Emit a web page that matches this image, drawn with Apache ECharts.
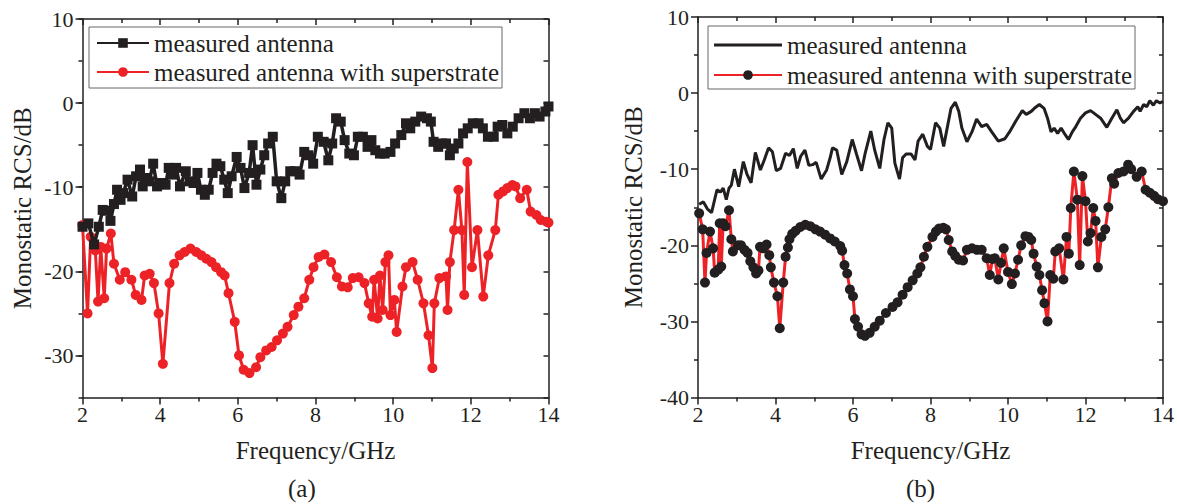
<!DOCTYPE html>
<html>
<head>
<meta charset="utf-8">
<script src="https://cdn.jsdelivr.net/npm/echarts@6/dist/echarts.min.js"></script>
<style>
  html, body { margin: 0; padding: 0; background: #fff; }
  #chart { width: 1177px; height: 504px; }
</style>
</head>
<body>
<div id="chart"></div>
<script>
// Frequency ticks (GHz) and labelled RCS ticks (dB)
const freqTicks = [2, 4, 6, 8, 10, 12, 14];
const rcsTicksA = [10, 0, -10, -20, -30];
const rcsTicksB = [10, 0, -10, -20, -30, -40];
const seriesLabels = ['measured antenna', 'measured antenna with superstrate'];
const panelLabels = ['(a)', '(b)'];

// Panel (a): [frequency GHz, monostatic RCS dB]
const antennaA = [
  [2.00,-14.7],[2.15,-14.3],[2.30,-16.8],[2.42,-14.7],[2.52,-12.7],[2.64,-12.8],[2.72,-14.0],
  [2.81,-12.0],[2.89,-10.3],[2.98,-11.5],[3.05,-10.7],[3.16,-9.1],[3.28,-11.1],[3.38,-8.7],
  [3.48,-7.9],[3.55,-9.9],[3.63,-8.9],[3.72,-9.3],[3.82,-7.2],[3.92,-9.9],[4.02,-9.5],
  [4.14,-9.7],[4.22,-7.7],[4.32,-8.5],[4.41,-7.7],[4.51,-9.9],[4.66,-8.1],[4.76,-9.3],
  [4.86,-9.5],[4.96,-8.3],[5.05,-10.3],[5.15,-10.9],[5.25,-10.3],[5.35,-8.3],[5.45,-7.2],
  [5.55,-7.5],[5.65,-9.1],[5.74,-10.7],[5.84,-8.7],[5.97,-6.4],[6.07,-7.7],[6.17,-10.1],
  [6.29,-8.3],[6.38,-5.0],[6.48,-9.7],[6.58,-7.9],[6.68,-6.2],[6.78,-4.8],[6.90,-4.0],
  [7.00,-9.3],[7.12,-11.3],[7.22,-9.3],[7.35,-8.1],[7.47,-8.1],[7.59,-8.5],[7.71,-5.8],
  [7.81,-6.2],[7.94,-7.2],[8.06,-4.0],[8.21,-4.6],[8.33,-6.8],[8.43,-4.8],[8.53,-1.8],
  [8.65,-2.2],[8.75,-4.4],[8.87,-6.0],[8.99,-6.2],[9.09,-4.0],[9.22,-4.0],[9.34,-5.2],
  [9.44,-4.4],[9.54,-5.6],[9.66,-6.0],[9.78,-6.0],[9.93,-5.8],[10.05,-4.8],[10.21,-3.8],
  [10.33,-2.4],[10.44,-3.0],[10.57,-2.2],[10.72,-1.6],[10.87,-1.8],[10.97,-2.2],[11.04,-4.6],
  [11.16,-5.2],[11.26,-4.8],[11.36,-4.8],[11.46,-6.2],[11.56,-5.4],[11.68,-4.8],[11.80,-3.6],
  [11.92,-3.0],[12.05,-2.4],[12.20,-2.4],[12.31,-3.0],[12.44,-4.0],[12.59,-4.0],[12.69,-2.8],
  [12.81,-2.6],[12.94,-3.6],[13.08,-2.8],[13.23,-1.8],[13.38,-1.2],[13.52,-1.8],[13.65,-1.2],
  [13.77,-1.6],[13.92,-1.0],[14.00,-0.4]
];
const superstrateA = [
  [2.00,-14.5],[2.13,-25.0],[2.21,-15.9],[2.33,-17.5],[2.40,-23.6],[2.47,-17.1],[2.56,-23.2],
  [2.62,-17.3],[2.73,-15.5],[2.81,-19.1],[2.96,-21.0],[3.10,-20.1],[3.26,-21.0],[3.37,-22.8],
  [3.52,-23.4],[3.60,-20.5],[3.73,-20.3],[3.84,-21.4],[3.96,-25.0],[4.07,-31.0],[4.24,-21.4],
  [4.36,-19.1],[4.50,-18.1],[4.63,-17.7],[4.78,-17.3],[4.93,-17.7],[5.06,-18.1],[5.19,-18.5],
  [5.32,-18.9],[5.44,-19.5],[5.57,-20.1],[5.66,-20.5],[5.76,-22.6],[5.92,-26.0],[6.03,-30.0],
  [6.15,-31.7],[6.30,-32.1],[6.47,-31.4],[6.58,-30.2],[6.73,-29.4],[6.87,-29.0],[7.01,-28.2],
  [7.16,-27.4],[7.28,-26.6],[7.44,-25.2],[7.56,-24.2],[7.71,-23.2],[7.84,-21.0],[7.95,-19.5],
  [8.08,-18.3],[8.23,-18.0],[8.40,-18.9],[8.55,-20.7],[8.68,-21.8],[8.83,-21.9],[8.96,-20.8],
  [9.11,-20.7],[9.26,-21.4],[9.37,-23.8],[9.46,-25.4],[9.51,-21.0],[9.60,-25.6],[9.66,-20.5],
  [9.73,-24.6],[9.80,-18.9],[9.88,-18.1],[9.93,-25.2],[10.03,-23.4],[10.09,-27.2],[10.24,-21.8],
  [10.33,-19.5],[10.50,-18.9],[10.63,-21.0],[10.78,-23.8],[10.91,-27.6],[11.01,-31.5],[11.06,-23.8],
  [11.19,-20.8],[11.36,-20.6],[11.40,-24.6],[11.46,-18.9],[11.57,-15.1],[11.68,-10.3],[11.77,-15.1],
  [11.83,-22.8],[11.91,-7.0],[12.03,-19.5],[12.17,-15.1],[12.32,-23.0],[12.45,-18.1],[12.63,-15.1],
  [12.71,-10.9],[12.83,-10.5],[12.94,-10.1],[13.07,-9.75],[13.15,-9.9],[13.27,-11.3],[13.44,-10.3],
  [13.54,-12.9],[13.69,-13.3],[13.80,-13.9],[13.95,-14.1],[14.00,-14.2]
];

// Panel (b): [frequency GHz, monostatic RCS dB]
const antennaB = [
  [2.03,-14.6],[2.14,-14.3],[2.24,-15.2],[2.35,-15.7],[2.49,-12.7],[2.58,-13.0],[2.65,-12.5],
  [2.73,-14.0],[2.80,-12.5],[2.86,-12.1],[2.94,-10.0],[3.05,-12.3],[3.17,-9.0],[3.26,-10.6],
  [3.37,-11.8],[3.48,-7.8],[3.61,-10.1],[3.71,-8.8],[3.82,-7.2],[3.92,-7.7],[4.02,-10.2],
  [4.13,-9.9],[4.26,-7.9],[4.36,-8.2],[4.46,-7.3],[4.56,-9.9],[4.65,-8.3],[4.76,-7.5],
  [4.86,-9.5],[4.96,-9.4],[5.05,-9.1],[5.18,-11.3],[5.32,-10.1],[5.41,-8.5],[5.47,-7.2],
  [5.58,-7.5],[5.71,-10.7],[5.84,-9.0],[5.98,-6.1],[6.09,-8.0],[6.22,-10.2],[6.31,-8.0],
  [6.46,-5.0],[6.56,-7.5],[6.69,-9.9],[6.80,-6.1],[6.90,-3.9],[7.00,-4.6],[7.08,-9.2],
  [7.20,-11.3],[7.28,-8.5],[7.37,-8.0],[7.50,-8.0],[7.60,-8.8],[7.68,-6.3],[7.80,-5.4],
  [7.92,-7.0],[8.00,-7.4],[8.13,-3.9],[8.24,-4.6],[8.34,-7.0],[8.43,-4.6],[8.53,-2.0],
  [8.64,-1.2],[8.73,-2.4],[8.81,-4.6],[8.94,-6.4],[9.07,-5.1],[9.19,-3.4],[9.32,-4.4],
  [9.45,-4.1],[9.58,-5.1],[9.75,-6.3],[9.92,-6.0],[10.04,-5.1],[10.21,-3.6],[10.37,-2.3],
  [10.47,-2.8],[10.60,-2.4],[10.68,-2.0],[10.81,-1.5],[10.93,-2.0],[11.02,-3.3],[11.11,-5.1],
  [11.19,-4.6],[11.28,-5.3],[11.37,-4.6],[11.48,-5.5],[11.56,-6.1],[11.66,-5.1],[11.75,-4.4],
  [11.87,-3.3],[12.00,-2.6],[12.13,-2.3],[12.26,-2.8],[12.39,-3.3],[12.55,-4.5],[12.68,-3.3],
  [12.81,-2.2],[12.90,-3.3],[12.98,-3.9],[13.11,-3.3],[13.24,-2.4],[13.35,-1.8],[13.41,-2.4],
  [13.50,-1.5],[13.58,-1.8],[13.66,-1.0],[13.75,-1.6],[13.83,-1.0],[13.92,-1.3],[14.00,-1.1]
];
const superstrateB = [
  [2.03,-15.8],[2.12,-17.9],[2.18,-24.9],[2.22,-21.0],[2.31,-18.2],[2.39,-20.4],[2.43,-23.6],
  [2.52,-23.2],[2.56,-17.1],[2.60,-22.8],[2.65,-17.1],[2.71,-17.5],[2.80,-15.4],[2.86,-19.2],
  [2.90,-20.8],[3.03,-20.0],[3.11,-20.0],[3.20,-20.6],[3.28,-21.0],[3.35,-22.1],[3.43,-22.9],
  [3.50,-23.7],[3.56,-23.3],[3.60,-20.2],[3.68,-20.4],[3.77,-19.9],[3.84,-21.3],[3.88,-22.9],
  [3.96,-24.9],[4.05,-26.7],[4.11,-30.9],[4.20,-24.9],[4.26,-21.5],[4.32,-20.3],[4.36,-19.2],
  [4.43,-18.5],[4.52,-18.1],[4.64,-17.6],[4.77,-17.3],[4.90,-17.5],[5.03,-17.9],[5.15,-18.2],
  [5.28,-18.6],[5.41,-19.1],[5.53,-19.5],[5.67,-20.1],[5.72,-20.7],[5.78,-22.6],[5.85,-23.7],
  [5.92,-25.8],[6.00,-26.7],[6.05,-29.7],[6.13,-30.7],[6.22,-31.7],[6.31,-31.9],[6.43,-31.5],
  [6.56,-30.7],[6.69,-29.9],[6.85,-28.9],[7.02,-28.1],[7.15,-27.5],[7.28,-26.5],[7.41,-25.5],
  [7.54,-24.6],[7.66,-23.7],[7.74,-22.9],[7.83,-21.5],[7.92,-20.2],[8.05,-18.9],[8.14,-18.2],
  [8.22,-17.8],[8.33,-17.7],[8.40,-17.9],[8.47,-19.3],[8.56,-20.8],[8.64,-21.4],[8.73,-21.9],
  [8.84,-22.0],[8.94,-20.6],[9.07,-20.4],[9.20,-20.6],[9.32,-20.6],[9.45,-21.7],[9.53,-23.9],
  [9.60,-21.8],[9.66,-21.7],[9.75,-24.5],[9.82,-22.3],[9.89,-20.4],[10.00,-23.5],[10.10,-25.1],
  [10.18,-23.7],[10.26,-21.9],[10.34,-20.0],[10.45,-18.8],[10.53,-18.9],[10.60,-19.3],[10.66,-21.1],
  [10.74,-22.8],[10.81,-23.9],[10.88,-25.9],[10.94,-27.6],[11.02,-30.0],[11.09,-23.9],[11.17,-24.4],
  [11.22,-20.8],[11.32,-20.4],[11.43,-24.5],[11.51,-18.9],[11.57,-21.1],[11.62,-15.1],[11.70,-10.3],
  [11.79,-14.0],[11.85,-22.6],[11.92,-10.9],[12.00,-14.2],[12.06,-19.5],[12.13,-18.4],[12.20,-15.1],
  [12.26,-16.8],[12.32,-22.9],[12.41,-18.9],[12.51,-17.9],[12.59,-15.0],[12.68,-11.2],[12.74,-11.9],
  [12.85,-10.5],[12.98,-10.3],[13.10,-9.4],[13.18,-10.0],[13.32,-11.0],[13.45,-10.3],[13.55,-12.7],
  [13.66,-13.1],[13.77,-13.5],[13.87,-13.95],[14.00,-14.2]
];

const INK = '#231f20';
const RED = '#ec2227';
const FONT = "'Liberation Serif', 'Times New Roman', serif";
const AXIS_W = 1.5;

const chart = echarts.init(document.getElementById('chart'), null, { renderer: 'svg' });

const lineStyle = { color: INK, width: AXIS_W };
const tickFont = { fontSize: 22, fontFamily: FONT, color: INK };
const titleFont = { fontSize: 25, fontFamily: FONT, color: INK };
const legendFont = { fontSize: 25, fontFamily: FONT, color: INK, lineHeight: 26 };

// Bottom frequency axis with labels and outward ticks
function freqAxis(gridIndex) {
  return {
    type: 'value', gridIndex, position: 'bottom', min: 2, max: 14, interval: 2,
    axisLine: { show: true, onZero: false, lineStyle },
    axisTick: { show: true, inside: false, length: 7, lineStyle },
    minorTick: { show: true, splitNumber: 2, length: 4, lineStyle },
    axisLabel: Object.assign({ margin: 6, showMinLabel: true, showMaxLabel: true,
      customValues: freqTicks }, tickFont),
    splitLine: { show: false },
    name: 'Frequency/GHz', nameLocation: 'middle', nameGap: 40, nameTextStyle: titleFont
  };
}
// Top frame axis with inward ticks only
function frameXAxis(gridIndex) {
  return {
    type: 'value', gridIndex, position: 'top', min: 2, max: 14, interval: 2,
    axisLine: { show: true, onZero: false, lineStyle },
    axisTick: { show: true, inside: true, length: 6, lineStyle },
    minorTick: { show: true, splitNumber: 2, length: 4, lineStyle },
    axisLabel: { show: false }, splitLine: { show: false }
  };
}

const option = {
  animation: false,
  backgroundColor: '#fff',
  textStyle: { fontFamily: FONT },
  grid: [
    { left: 82.5, top: 19, width: 466, height: 378.5, containLabel: false },
    { left: 698, top: 17, width: 470, height: 380.5, containLabel: false }
  ],
  xAxis: [freqAxis(0), frameXAxis(0), freqAxis(1), frameXAxis(1)],
  yAxis: [
    // (a) left: labelled major ticks every 10 dB
    {
      type: 'value', gridIndex: 0, position: 'left', min: -35, max: 10, interval: 5,
      axisLine: { show: true, onZero: false, lineStyle },
      axisTick: { show: true, inside: false, length: 7, customValues: rcsTicksA, lineStyle },
      axisLabel: Object.assign({ margin: 9, customValues: rcsTicksA }, tickFont),
      splitLine: { show: false },
      name: 'Monostatic RCS/dB', nameLocation: 'middle', nameGap: 48, nameRotate: 90,
      nameTextStyle: titleFont
    },
    // (a) left: minor ticks every 5 dB
    {
      type: 'value', gridIndex: 0, position: 'left', min: -35, max: 10, interval: 5,
      axisLine: { show: false },
      axisTick: { show: true, inside: false, length: 4, lineStyle },
      axisLabel: { show: false }, splitLine: { show: false }
    },
    // (a) right frame
    {
      type: 'value', gridIndex: 0, position: 'right', min: -35, max: 10, interval: 5,
      axisLine: { show: true, onZero: false, lineStyle },
      axisTick: { show: true, inside: true, length: 5, lineStyle },
      axisLabel: { show: false }, splitLine: { show: false }
    },
    // (b) left
    {
      type: 'value', gridIndex: 1, position: 'left', min: -40, max: 10, interval: 10,
      axisLine: { show: true, onZero: false, lineStyle },
      axisTick: { show: true, inside: false, length: 7, lineStyle },
      minorTick: { show: true, splitNumber: 2, length: 4, lineStyle },
      axisLabel: Object.assign({ margin: 9, customValues: rcsTicksB }, tickFont),
      splitLine: { show: false },
      name: 'Monostatic RCS/dB', nameLocation: 'middle', nameGap: 52, nameRotate: 90,
      nameTextStyle: titleFont
    },
    // (b) right frame
    {
      type: 'value', gridIndex: 1, position: 'right', min: -40, max: 10, interval: 10,
      axisLine: { show: true, onZero: false, lineStyle },
      axisTick: { show: true, inside: true, length: 6, lineStyle },
      minorTick: { show: true, splitNumber: 2, length: 4, lineStyle },
      axisLabel: { show: false }, splitLine: { show: false }
    }
  ],
  legend: [
    {
      left: 89, top: 27, orient: 'vertical', selectedMode: false,
      data: ['a-antenna', 'a-superstrate'],
      formatter: n => n === 'a-antenna' ? seriesLabels[0] : seriesLabels[1],
      itemWidth: 52, itemHeight: 12, itemGap: 3, padding: [3, 3, 3, 7],
      borderColor: '#666', borderWidth: 1, textStyle: legendFont
    },
    {
      left: 708, top: 26, orient: 'vertical', selectedMode: false,
      data: [
        // plain line key for the marker-less curve
        { name: 'b-antenna', icon: 'path://M0,0L68,0L68,3L0,3Z' },
        'b-superstrate'
      ],
      formatter: n => n === 'b-antenna' ? seriesLabels[0] : seriesLabels[1],
      itemWidth: 68, itemHeight: 12, itemGap: 4, padding: [6, 3, 1, 5],
      borderColor: '#666', borderWidth: 1, textStyle: legendFont
    }
  ],
  series: [
    {
      name: 'a-antenna', type: 'line', xAxisIndex: 0, yAxisIndex: 0, data: antennaA,
      symbol: 'rect', symbolSize: 10, showAllSymbol: true,
      lineStyle: { color: INK, width: 3.5 }, itemStyle: { color: INK }, z: 3
    },
    {
      name: 'a-superstrate', type: 'line', xAxisIndex: 0, yAxisIndex: 0, data: superstrateA,
      symbol: 'circle', symbolSize: 10, showAllSymbol: true,
      lineStyle: { color: RED, width: 3 }, itemStyle: { color: RED }, z: 2
    },
    {
      name: 'b-antenna', type: 'line', xAxisIndex: 2, yAxisIndex: 3, data: antennaB,
      symbol: 'none', lineStyle: { color: INK, width: 3 }, itemStyle: { color: INK }, z: 3
    },
    {
      name: 'b-superstrate', type: 'line', xAxisIndex: 2, yAxisIndex: 3, data: superstrateB,
      symbol: 'circle', symbolSize: 10, showAllSymbol: true,
      lineStyle: { color: RED, width: 3 }, itemStyle: { color: INK }, z: 2
    }
  ],
  graphic: [
    { type: 'text', left: 288, top: 476, style: { text: panelLabels[0], fontSize: 25, fontFamily: FONT, fill: INK } },
    { type: 'text', left: 906, top: 476, style: { text: panelLabels[1], fontSize: 25, fontFamily: FONT, fill: INK } }
  ]
};

chart.setOption(option);
</script>
</body>
</html>
